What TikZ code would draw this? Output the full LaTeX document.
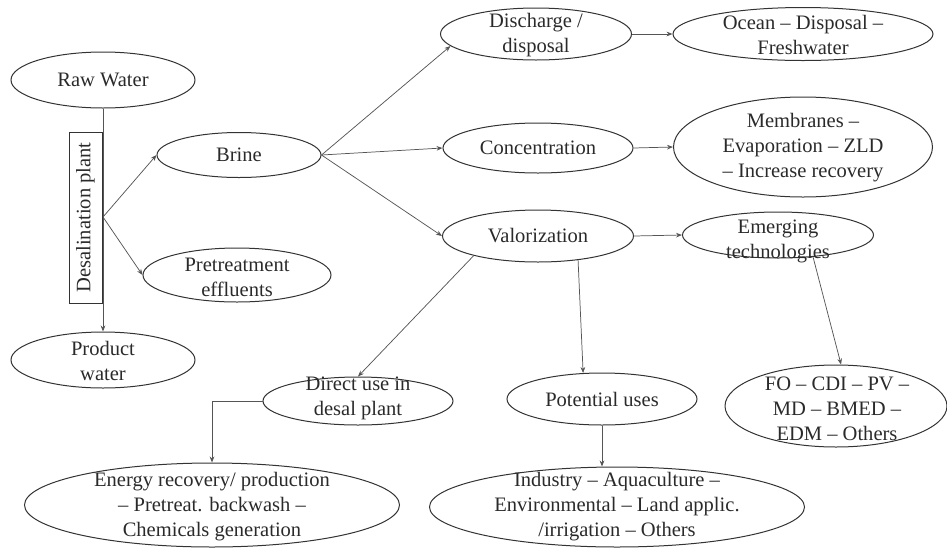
\documentclass[tikz,border=0pt]{standalone}
\usepackage{fontspec}
\setmainfont{Liberation Serif}[Ligatures=TeX]
\usetikzlibrary{shapes.geometric,arrows.meta}
\definecolor{linec}{HTML}{555555}
\definecolor{edgec}{HTML}{333333}
\definecolor{txtc}{HTML}{2A2A2A}
\begin{document}
\begin{tikzpicture}[x=0.75pt,y=-0.75pt,
  ell/.style 2 args={draw=edgec, line width=0.75pt, ellipse, inner sep=0pt, minimum width=#1*0.75pt, minimum height=#2*0.75pt},
  txt/.style={text=txtc, align=center, inner sep=0pt, font=\rmfamily\fontsize{15.4}{18.75}\selectfont},
  conn/.style={draw=linec, line width=0.55pt},
  arr/.style={conn, -{Stealth[length=4.5pt,width=3.5pt]}}]
\useasboundingbox (0,0) rectangle (947,547);
% nodes
\node[ell={184}{56}] (raw) at (103,80) {};
\node[txt] (rawt) at (raw) {Raw Water};
\node[draw=edgec, line width=0.6pt, rotate=90, minimum width=171*0.75pt, minimum height=33*0.75pt, inner sep=0pt] (box) at (85.5,217.5) {};
\node[txt, rotate=90] (boxt) at (box) {Desalination plant};
\coordinate (bp) at (103,217);
\node[ell={164}{45}] (brine) at (239,155) {};
\node[txt] (brinet) at (brine) {Brine};
\node[ell={188}{54}] (pre) at (237,275) {};
\node[txt] (pret) at (237,277) {Pretreatment\\effluents};
\node[ell={184}{56}] (prod) at (103,360) {};
\node[txt] (prodt) at (103,361) {Product\\water};
\node[ell={191}{52}] (dis) at (536,34) {};
\node[txt] (dist) at (536,35) {Discharge /\\disposal};
\node[ell={190}{50}] (con) at (538,148) {};
\node[txt] (cont) at (con) {Concentration};
\node[ell={191}{52}] (val) at (538,236) {};
\node[txt] (valt) at (val) {Valorization};
\node[ell={260}{53}] (ocean) at (803,34) {};
\node[txt] (oceant) at (803,35) {Ocean – Disposal –\\Freshwater};
\node[ell={259}{100}] (mem) at (803,147) {};
\node[txt] (memt) at (803,148) {Membranes –\\Evaporation – ZLD\\– Increase recovery};
\node[ell={191}{46}] (emg) at (778,235) {};
\node[txt] (emgt) at (778,241) {Emerging\\technologies};
\node[ell={222}{82}] (fo) at (836,406) {};
\node[txt] (fot) at (837,409) {FO – CDI – PV –\\MD – BMED –\\EDM – Others};
\node[ell={190}{52}] (pot) at (602,399) {};
\node[txt] (pott) at (pot) {Potential uses};
\node[ell={375}{80}] (ind) at (617,507) {};
\node[txt] (indt) at (617,507) {Industry – Aquaculture –\\Environmental – Land applic.\\/irrigation – Others};
\node[ell={190}{48}] (dir) at (358,401) {};
\node[txt] (dirt) at (358,398) {Direct use in\\desal plant};
\node[ell={375}{84}] (en) at (212,505) {};
\node[txt] (ent) at (212,507) {Energy recovery/ production\\– Pretreat. backwash –\\Chemicals generation};
% connectors
\draw[arr] (raw.south) -- (prod.north);
\draw[arr] (bp) -- (brine.west);
\draw[arr] (bp) -- (pre.west);
\draw[arr] (brine.east) -- (dis.188);
\draw[arr] (brine.east) -- (con.west);
\draw[arr] (brine.east) -- (val.west);
\draw[arr] (dis.east) -- (ocean.west);
\draw[arr] (con.east) -- (mem.west);
\draw[arr] (val.east) -- (emg.west);
\draw[arr] (emg.-32) -- (fo.83);
\draw[arr] (val.-31) -- (pot.126);
\draw[arr] (pot.south) -- (pot.south |- ind.north);
\draw[arr] (val.197) -- (dir.north);
\draw[arr] (dir.west) -| (en.north);
\end{tikzpicture}
\end{document}
